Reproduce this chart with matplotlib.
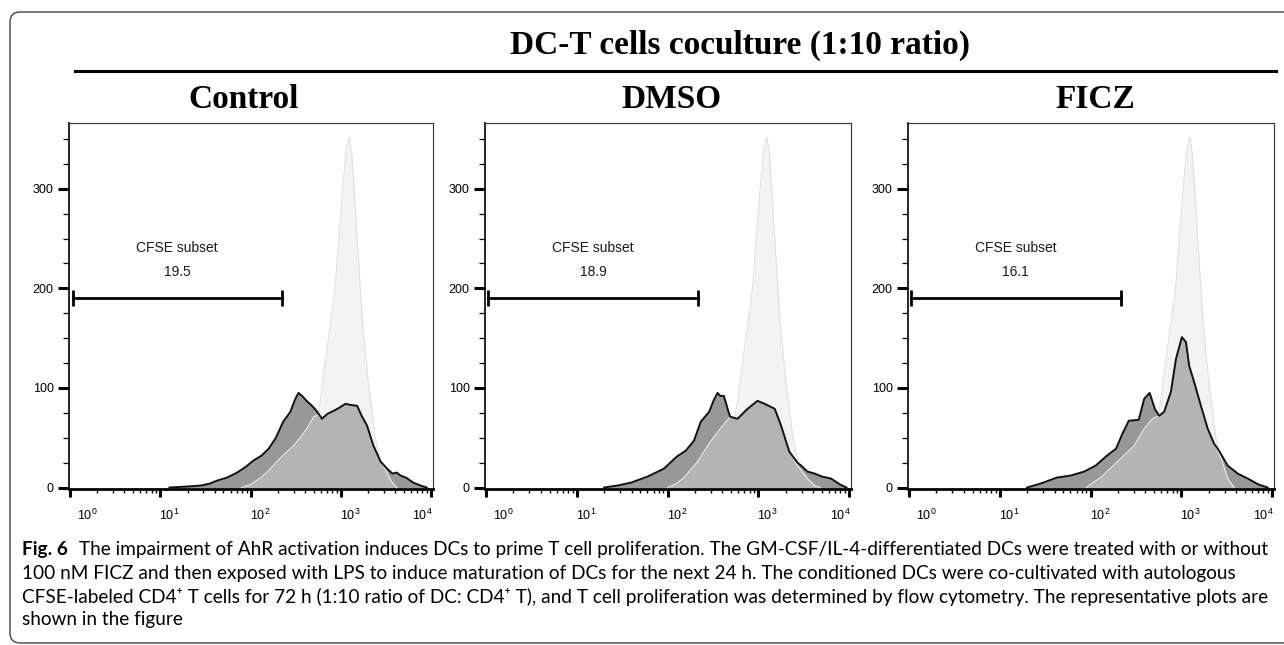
import numpy as np
import matplotlib.pyplot as plt
from matplotlib.patches import FancyBboxPatch
from matplotlib.lines import Line2D
from matplotlib.transforms import IdentityTransform, ScaledTranslation
from matplotlib.ticker import FixedLocator, LogLocator, NullFormatter

plt.rcParams['mathtext.fontset'] = 'custom'
plt.rcParams['mathtext.rm'] = 'Liberation Sans'
plt.rcParams['mathtext.it'] = 'Liberation Sans'
plt.rcParams['font.family'] = ['Liberation Sans', 'DejaVu Sans']

# --- data (x in log10 of CFSE intensity, y = cell count) ---
panel_names = ['Control', 'DMSO', 'FICZ']
subset_pct = ['19.5', '18.9', '16.1']
gate_lo = [0.03, 0.025, 0.02]
gate_hi = [2.345, 2.335, 2.33]
gate_y = 190

# unstimulated reference peak (light grey), same in every panel
ctrl_log = [1.9, 2.2, 2.4, 2.55, 2.65, 2.72, 2.77, 2.84, 2.90, 2.94, 2.98, 3.02, 3.06, 3.095,
            3.12, 3.145, 3.18, 3.213, 3.24, 3.27, 3.30, 3.33, 3.38, 3.45, 3.52, 3.6, 3.7]
ctrl_cnt = [0, 3, 8, 18, 35, 60, 86, 136, 175, 205, 255, 302, 340, 352,
            335, 302, 250, 202, 165, 136, 108, 86, 50, 19, 7, 2, 0]

# dark grey histogram with black outline
a1_log = [1.10, 1.30, 1.45, 1.55, 1.63, 1.74, 1.85, 1.95, 2.03, 2.12, 2.20, 2.28, 2.36, 2.44, 2.49,
          2.53, 2.57, 2.62, 2.68, 2.73, 2.79, 2.85, 2.92, 2.98, 3.05, 3.10, 3.18, 3.23, 3.29, 3.36,
          3.44, 3.51, 3.57, 3.62, 3.66, 3.72, 3.80, 3.88, 3.95]
a1_cnt = [0, 1, 2, 4, 7, 10, 15, 21, 27, 32, 39, 50, 66, 76, 88,
          95, 92, 87, 82, 77, 69, 74, 77, 80, 84, 83, 82, 72, 62, 42,
          26, 19, 14, 15, 12, 10, 5, 2, 0]
a2_log = [1.30, 1.45, 1.60, 1.78, 1.96, 2.10, 2.20, 2.29, 2.365, 2.457, 2.51, 2.55, 2.58, 2.62, 2.67,
          2.69, 2.77, 2.88, 2.99, 3.07, 3.18, 3.25, 3.34, 3.43, 3.47, 3.54, 3.62, 3.70, 3.80, 3.90, 3.97]
a2_cnt = [0, 2, 5, 11, 19, 31, 37, 47, 66, 76, 88, 95, 92, 92, 76,
          71, 69, 79, 87, 84, 79, 62, 36, 25, 22, 16, 14, 11, 9, 3, 0]
a3_log = [1.30, 1.45, 1.63, 1.78, 1.93, 2.055, 2.18, 2.28, 2.35, 2.42, 2.53, 2.59, 2.65, 2.707, 2.755,
          2.81, 2.884, 2.94, 3.005, 3.05, 3.086, 3.14, 3.215, 3.29, 3.36, 3.40, 3.51, 3.62, 3.73, 3.85, 3.95]
a3_cnt = [0, 4, 10, 12, 16, 22, 32, 39, 54, 67, 68, 89, 95, 79, 72,
          76, 96, 129, 151, 146, 122, 106, 82, 59, 44, 39, 22, 14, 9, 3, 0]

# medium grey histogram with light outline
b1_log = [1.90, 2.00, 2.10, 2.20, 2.29, 2.38, 2.475, 2.55, 2.62, 2.70, 2.75, 2.79, 2.85, 2.92, 2.98,
          3.05, 3.10, 3.18, 3.23, 3.29, 3.36, 3.44, 3.48, 3.52, 3.56, 3.62]
b1_cnt = [0, 3, 9, 17, 26, 34, 42, 50, 59, 71, 73, 69, 74, 77, 80,
          84, 83, 82, 72, 62, 42, 26, 20, 13, 6, 0]
b2_log = [2.00, 2.10, 2.18, 2.33, 2.47, 2.58, 2.67, 2.69, 2.77, 2.88, 2.99, 3.07, 3.18, 3.25, 3.34,
          3.43, 3.50, 3.55, 3.62, 3.68]
b2_cnt = [0, 4, 10, 26, 46, 59, 69, 71, 69, 79, 87, 84, 79, 62, 36,
          22, 14, 8, 2, 0]
b3_log = [1.95, 2.11, 2.295, 2.48, 2.59, 2.68, 2.755, 2.81, 2.884, 2.94, 3.005, 3.05, 3.086, 3.14, 3.215,
          3.29, 3.36, 3.40, 3.44, 3.51, 3.58]
b3_cnt = [0, 10, 26, 42, 59, 69, 72, 76, 96, 129, 151, 146, 122, 106, 82,
          59, 44, 37, 29, 9, 0]

a_logs = [a1_log, a2_log, a3_log]
a_cnts = [a1_cnt, a2_cnt, a3_cnt]
b_logs = [b1_log, b2_log, b3_log]
b_cnts = [b1_cnt, b2_cnt, b3_cnt]

y_major = [0, 100, 200, 300]
x_decades = [0, 1, 2, 3, 4]

caption_bold = 'Fig. 6'
caption_lines = [
    'The impairment of AhR activation induces DCs to prime T cell proliferation. '
    'The GM-CSF/IL-4-differentiated DCs were treated with or without',
    '100 nM FICZ and then exposed with LPS to induce maturation of DCs for the next 24 h. '
    'The conditioned DCs were co-cultivated with autologous',
    'CFSE-labeled CD4\u207a T cells for 72 h (1:10 ratio of DC: CD4\u207a T), and T cell proliferation '
    'was determined by flow cytometry. The representative plots are',
    'shown in the figure',
]

# --- layout helpers (pixels from top-left) ---
W, H = 1284, 645
fig = plt.figure(figsize=(W / 100, H / 100), dpi=100)


def fx(px):
    return px / W


def fy(py):
    return 1 - py / H


panel_x = [(69, 433), (485, 851), (908, 1274)]
panel_title_x = [244, 671, 1095]
ax_top, ax_bot = 123, 489
xlab_dx = [17, 9, 10, 9, -9]

# frame around the figure (right side runs off the image)
fig.add_artist(FancyBboxPatch((10, 2), 1320, 631, boxstyle='round,pad=0,rounding_size=10',
                              transform=IdentityTransform(), fill=False,
                              edgecolor='#555555', lw=1.1))

fig.text(fx(740), fy(45), 'DC-T cells coculture (1:10 ratio)', ha='center', va='center',
         family='Liberation Serif', weight='bold', fontsize=24)
fig.add_artist(Line2D([fx(75), fx(1276)], [fy(71), fy(71)], color='black', lw=2.2))

for i in range(3):
    l, r = panel_x[i]
    ax = fig.add_axes([fx(l), fy(ax_bot), (r - l) / W, (ax_bot - ax_top) / H])
    ax.set_xscale('log')
    ax.set_xlim(10 ** -0.012, 10 ** 4.02)
    ax.set_ylim(-1.5, 366)

    cx = 10 ** np.array(ctrl_log)
    xa = 10 ** np.array(a_logs[i])
    xb = 10 ** np.array(b_logs[i])
    ax.fill_between(cx, ctrl_cnt, color='#f3f3f3', lw=0, zorder=1)
    ax.plot(cx, ctrl_cnt, color='#e0e0e0', lw=0.8, zorder=1.1)
    ax.fill_between(xa, a_cnts[i], color='#989898', lw=0, zorder=2)
    ax.fill_between(xb, b_cnts[i], color='#b4b4b4', lw=0, zorder=3)
    ax.plot(xb, b_cnts[i], color='#eeeeee', lw=0.8, zorder=3.5)
    ax.plot(xa, a_cnts[i], color='#111111', lw=1.4, zorder=4)

    # gate
    ax.plot([10 ** gate_lo[i], 10 ** gate_hi[i]], [gate_y, gate_y], color='black', lw=2,
            marker='|', ms=11, mew=2, zorder=6)
    mid = 10 ** ((gate_lo[i] + gate_hi[i]) / 2)
    ax.text(mid, 240, 'CFSE subset', ha='center', va='center', fontsize=10, color='#1a1a1a')
    ax.text(mid, 216, subset_pct[i], ha='center', va='center', fontsize=10, color='#1a1a1a')

    # axes styling
    for s in ['top', 'right']:
        ax.spines[s].set_color('#333333')
        ax.spines[s].set_linewidth(0.8)
    ax.spines['left'].set_linewidth(1.2)
    ax.spines['bottom'].set_linewidth(2)

    ax.set_yticks(y_major)
    ax.set_yticklabels([str(v) for v in y_major])
    ax.yaxis.set_minor_locator(FixedLocator(np.arange(25, 351, 25)))
    ax.tick_params(axis='y', which='major', length=8, width=2.2, labelsize=9, pad=3)
    ax.tick_params(axis='y', which='minor', length=4.5, width=0.9)

    ax.set_xticks([10.0 ** d for d in x_decades])
    ax.set_xticklabels([])
    ax.xaxis.set_minor_locator(LogLocator(base=10, subs=np.arange(2, 10)))
    ax.xaxis.set_minor_formatter(NullFormatter())
    ax.tick_params(axis='x', which='major', length=5.5, width=2.2)
    ax.tick_params(axis='x', which='minor', length=3, width=1)

    xt = ax.get_xaxis_transform()
    for d, dx in zip(x_decades, xlab_dx):
        off = ScaledTranslation(dx / 100, -26 / 100, fig.dpi_scale_trans)
        ax.text(10.0 ** d, 0, '$10^{%d}$' % d, transform=xt + off, ha='center', va='center',
                fontsize=9)

    fig.text(fx(panel_title_x[i]), fy(100), panel_names[i], ha='center', va='center',
             family='Liberation Serif', weight='bold', fontsize=24)

# caption, sized so that the first line spans the frame width
cap_fam = ['Lato', 'DejaVu Sans']
cap_y = [550, 574, 597, 620]
cap_left, cap_right = 22, 1263
renderer = fig.canvas.get_renderer()
size = 12
tb = fig.text(fx(cap_left), fy(cap_y[0]), caption_bold, family=cap_fam, weight='bold',
              fontsize=size, va='center')
t1 = fig.text(0, 0, caption_lines[0], family=cap_fam, fontsize=size, va='center')
wb = tb.get_window_extent(renderer).width
w1 = t1.get_window_extent(renderer).width
gap = 0.6 * size * 100 / 72
size = size * (cap_right - cap_left) / (wb + gap + w1)
tb.set_fontsize(size)
t1.set_fontsize(size)
wb = tb.get_window_extent(renderer).width
t1.set_position((fx(cap_left + wb + 0.6 * size * 100 / 72), fy(cap_y[0])))
for line, yy in zip(caption_lines[1:], cap_y[1:]):
    fig.text(fx(cap_left), fy(yy), line, family=cap_fam, fontsize=size, va='center')

fig.savefig('out.png', dpi=100)
